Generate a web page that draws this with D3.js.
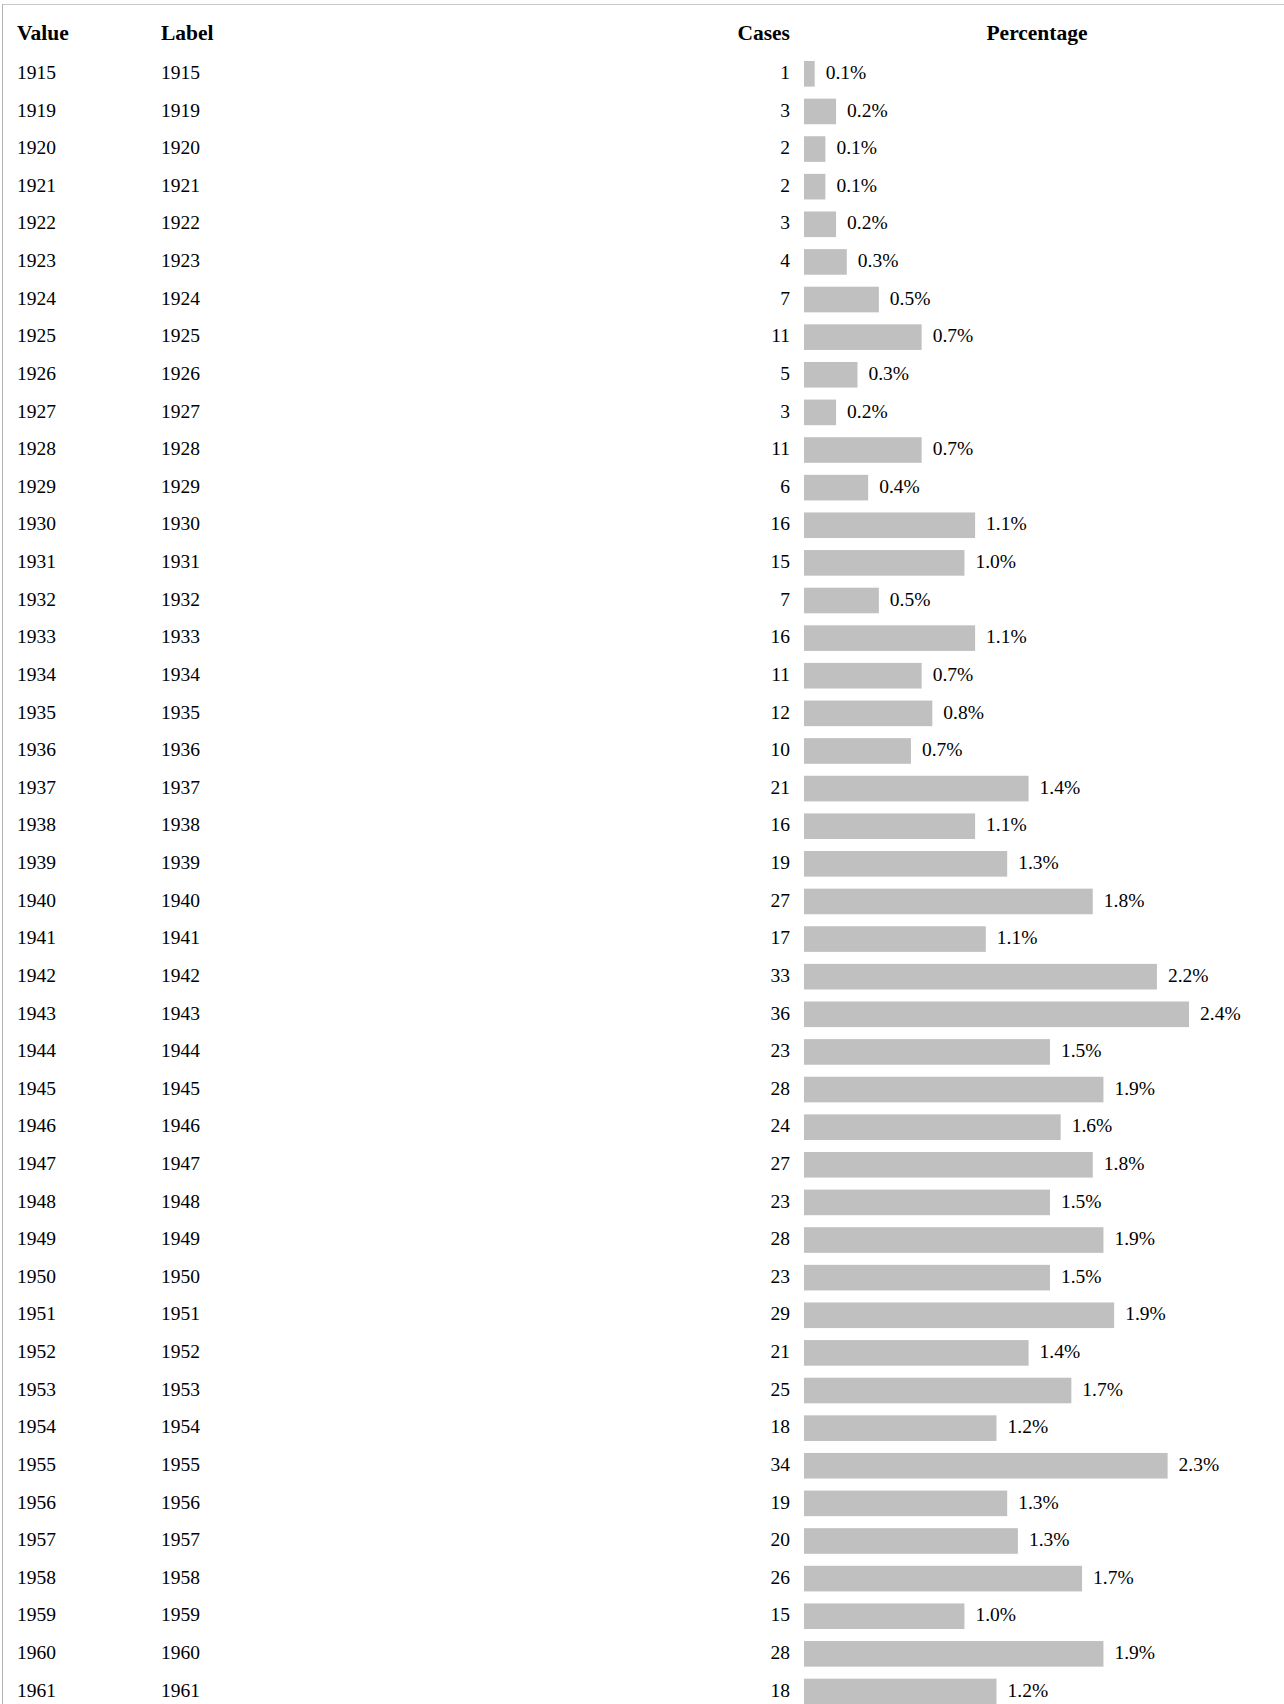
<!DOCTYPE html>
<html>
<head>
<meta charset="utf-8">
<script src="https://cdn.jsdelivr.net/npm/d3@7"></script>
<style>
    html, body { margin: 0; padding: 0; background: #fff; }
    svg { display: block; font-family: "Liberation Serif", "Times New Roman", serif; }
    .head { font-weight: bold; font-size: 21.5px; }
    .cell { font-size: 19.5px; }
</style>
</head>
<body>
<svg id="freq"></svg>
<script>
// frequency table data
const values = ["1915", "1919", "1920", "1921", "1922", "1923", "1924", "1925", "1926", "1927",
    "1928", "1929", "1930", "1931", "1932", "1933", "1934", "1935", "1936", "1937",
    "1938", "1939", "1940", "1941", "1942", "1943", "1944", "1945", "1946", "1947",
    "1948", "1949", "1950", "1951", "1952", "1953", "1954", "1955", "1956", "1957",
    "1958", "1959", "1960", "1961"];
const labels = values.slice();
const cases = [1, 3, 2, 2, 3, 4, 7, 11, 5, 3,
    11, 6, 16, 15, 7, 16, 11, 12, 10, 21,
    16, 19, 27, 17, 33, 36, 23, 28, 24, 27,
    23, 28, 23, 29, 21, 25, 18, 34, 19, 20,
    26, 15, 28, 18];
const percents = ["0.1%", "0.2%", "0.1%", "0.1%", "0.2%", "0.3%", "0.5%", "0.7%", "0.3%", "0.2%",
    "0.7%", "0.4%", "1.1%", "1.0%", "0.5%", "1.1%", "0.7%", "0.8%", "0.7%", "1.4%",
    "1.1%", "1.3%", "1.8%", "1.1%", "2.2%", "2.4%", "1.5%", "1.9%", "1.6%", "1.8%",
    "1.5%", "1.9%", "1.5%", "1.9%", "1.4%", "1.7%", "1.2%", "2.3%", "1.3%", "1.3%",
    "1.7%", "1.0%", "1.9%", "1.2%"];
const headers = ["Value", "Label", "Cases", "Percentage"];

const rows = values.map((v, i) => ({ value: v, label: labels[i], cases: cases[i], pct: percents[i] }));

// setup svg canvas
const width = 1284,
      height = 1704,
      step = 37.62,
      gap = 12;

const svg = d3.select("svg#freq")
    .attr("width", width)
    .attr("height", height);

// frame lines
svg.append("line")
    .attr("x1", 2).attr("x2", width)
    .attr("y1", 4.5).attr("y2", 4.5)
    .attr("stroke", "#c8c8c8");
svg.append("line")
    .attr("x1", 2.5).attr("x2", 2.5)
    .attr("y1", 4).attr("y2", height)
    .attr("stroke", "#b4b4b4");

// scales
const y = d3.scaleBand()
    .domain(values)
    .range([55, 55 + values.length * step])
    .paddingInner(gap / step)
    .paddingOuter(gap / 2 / step);

const barX = 804;
const x = d3.scaleLinear()
    .domain([0, d3.max(cases)])
    .range([0, 385]);

// column headers
const colX = [17, 161, 790, 1037];
const colAnchor = ["start", "start", "end", "middle"];
svg.append("g")
    .selectAll("text")
    .data(headers)
    .join("text")
    .attr("class", "head")
    .attr("x", (d, i) => colX[i])
    .attr("y", 39.5)
    .attr("text-anchor", (d, i) => colAnchor[i])
    .text(d => d);

// table rows
const row = svg.append("g")
    .selectAll("g")
    .data(rows)
    .join("g")
    .attr("transform", d => `translate(0, ${y(d.value)})`);

row.append("text")
    .attr("class", "cell")
    .attr("x", colX[0])
    .attr("y", 18)
    .text(d => d.value);

row.append("text")
    .attr("class", "cell")
    .attr("x", colX[1])
    .attr("y", 18)
    .text(d => d.label);

row.append("text")
    .attr("class", "cell")
    .attr("x", colX[2])
    .attr("y", 18)
    .attr("text-anchor", "end")
    .text(d => d.cases);

row.append("rect")
    .attr("x", barX)
    .attr("y", 0)
    .attr("width", d => x(d.cases))
    .attr("height", y.bandwidth())
    .attr("fill", "#c0c0c0");

row.append("text")
    .attr("class", "cell")
    .attr("x", d => barX + x(d.cases) + 11)
    .attr("y", 18)
    .text(d => d.pct);
</script>
</body>
</html>
